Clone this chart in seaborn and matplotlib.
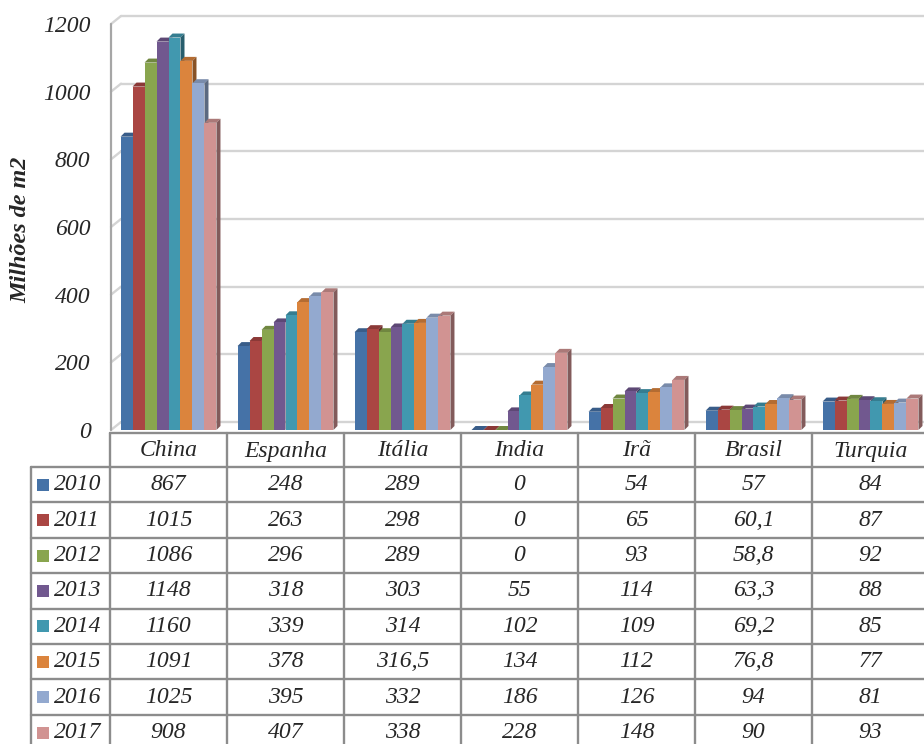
import matplotlib
matplotlib.use("Agg")
import matplotlib.pyplot as plt
import matplotlib.transforms as mtransforms
from matplotlib.patches import Polygon, Rectangle
from matplotlib.lines import Line2D
import numpy as np
import pandas as pd
import seaborn as sns

# ---- data (milhões de m2) ----
paises = ["China", "Espanha", "Itália", "India", "Irã", "Brasil", "Turquia"]
anos = ["2010", "2011", "2012", "2013", "2014", "2015", "2016", "2017"]
v2010 = [867, 248, 289, 0, 54, 57, 84]
v2011 = [1015, 263, 298, 0, 65, 60.1, 87]
v2012 = [1086, 296, 289, 0, 93, 58.8, 92]
v2013 = [1148, 318, 303, 55, 114, 63.3, 88]
v2014 = [1160, 339, 314, 102, 109, 69.2, 85]
v2015 = [1091, 378, 316.5, 134, 112, 76.8, 77]
v2016 = [1025, 395, 332, 186, 126, 94, 81]
v2017 = [908, 407, 338, 228, 148, 90, 93]
series = [v2010, v2011, v2012, v2013, v2014, v2015, v2016, v2017]
yticks = [0, 200, 400, 600, 800, 1000, 1200]
cores = ["#4572A7", "#AA4643", "#89A54E", "#71588F",
         "#4198AF", "#DB843D", "#93A9CF", "#D19392"]

df = pd.DataFrame(
    [(p, a, v) for a, vals in zip(anos, series) for p, v in zip(paises, vals)],
    columns=["pais", "ano", "valor"],
)

sns.set_theme(style="white")
plt.rcParams["font.family"] = ["Liberation Serif", "DejaVu Serif"]

W, H, DPI = 924, 744, 100
fig = plt.figure(figsize=(W / DPI, H / DPI), dpi=DPI)
fig.patch.set_facecolor("white")

# plot area in pixels
ax_l, ax_r = 110, 929
ax_base, ax_top = 430, 14
px_per_unit = (430 - 24) / 1200.0
ymax = (ax_base - ax_top) / px_per_unit
ax = fig.add_axes([ax_l / W, (H - ax_base) / H, (ax_r - ax_l) / W, (ax_base - ax_top) / H])
ax.patch.set_alpha(0)

sns.barplot(data=df, x="pais", y="valor", hue="ano", order=paises, hue_order=anos,
            palette=cores, width=0.82, saturation=1, errorbar=None,
            legend=False, linewidth=0, ax=ax)
ax.set_xlim(-0.5, len(paises) - 0.5)
ax.set_ylim(0, ymax)
for s in ax.spines.values():
    s.set_visible(False)
ax.set_xticks([])
ax.set_xlabel("")
ax.set_ylabel("")
ax.set_yticks(yticks)
ax.set_yticklabels([str(t) for t in yticks], fontsize=17, style="italic")
ax.tick_params(axis="y", length=0, pad=14)

ident = mtransforms.IdentityTransform()
grid_col = "#D4D4D4"
dx_w, dy_w = 10, 8   # depth of the back wall
d_bar = 4            # depth of each bar

# back wall grid lines with the short perspective segment at the left wall
x_wall = ax.transData.transform((-0.5, 0))[0] + 1
x_end = ax.transData.transform((len(paises) - 0.5, 0))[0] + dx_w
for t in yticks:
    yd = ax.transData.transform((0, t))[1]
    ax.add_line(Line2D([x_wall + dx_w, x_end], [yd + dy_w, yd + dy_w], transform=ident,
                       color=grid_col, lw=1.7, zorder=0.5, clip_on=False))
    ax.add_line(Line2D([x_wall, x_wall + dx_w], [yd, yd + dy_w], transform=ident,
                       color=grid_col, lw=1.7, zorder=0.5, clip_on=False))
y0d = ax.transData.transform((0, 0))[1]
y1d = ax.transData.transform((0, yticks[-1]))[1]
ax.add_line(Line2D([x_wall, x_wall], [y0d, y1d], transform=ident,
                   color="#A6A6A6", lw=1.6, zorder=0.6, clip_on=False))


def shade(c, f):
    r, g, b = matplotlib.colors.to_rgb(c)
    return (r * f, g * f, b * f)


# 3D top and side faces for every bar
for k, cont in enumerate(ax.containers):
    col = cores[k]
    for p in cont.patches:
        z = 2 + k * 0.1
        p.set_zorder(z)
        (x0, yb) = ax.transData.transform((p.get_x(), 0))
        (x1, yt) = ax.transData.transform((p.get_x() + p.get_width(), p.get_height()))
        top = Polygon([(x0, yt), (x1, yt), (x1 + d_bar, yt + d_bar), (x0 + d_bar, yt + d_bar)],
                      closed=True, transform=ident, facecolor=shade(col, 0.82),
                      edgecolor="none", zorder=z - 0.05, clip_on=False)
        side = Polygon([(x1, yb), (x1 + d_bar, yb + d_bar), (x1 + d_bar, yt + d_bar), (x1, yt)],
                       closed=True, transform=ident, facecolor=shade(col, 0.62),
                       edgecolor="none", zorder=z - 0.05, clip_on=False)
        ax.add_patch(top)
        ax.add_patch(side)

fig.text(21 / W, 1 - 230 / H, "Milhões de m2", rotation=90, ha="center", va="center",
         fontsize=17.4, fontweight="bold", style="italic")

# ---- data table below the plot ----
tab = fig.add_axes([0, 0, 1, 1])
tab.set_xlim(0, W)
tab.set_ylim(H, 0)
tab.axis("off")
tab.patch.set_alpha(0)

col_edges = [110 + 117 * i for i in range(len(paises) + 1)]
row_h = 35.4
head_top, head_bot = 433, 467
row_edges = [head_bot + row_h * i for i in range(len(anos) + 1)]
lc, lw = "#8C8C8C", 1.7
x_first = 31

tab.plot([col_edges[0], W + 10], [head_top, head_top], color=lc, lw=lw)
for y in row_edges:
    tab.plot([x_first, W + 10], [y, y], color=lc, lw=lw)
for x in col_edges:
    tab.plot([x, x], [head_top, H + 10], color=lc, lw=lw)
tab.plot([x_first, x_first], [head_bot, H + 10], color=lc, lw=lw)


def fmt(v):
    return str(int(v)) if float(v).is_integer() else str(v).replace(".", ",")


fs = 17
for i, p in enumerate(paises):
    cx = (col_edges[i] + col_edges[i + 1]) / 2
    tab.text(cx, (head_top + head_bot) / 2 + 1, p, ha="center", va="center",
             fontsize=fs, style="italic")
for r, (a, vals) in enumerate(zip(anos, series)):
    cy = (row_edges[r] + row_edges[r + 1]) / 2
    tab.add_patch(Rectangle((37, cy - 6), 12, 12, facecolor=cores[r], edgecolor="none"))
    tab.text(54, cy, a, ha="left", va="center", fontsize=fs, style="italic")
    for i, v in enumerate(vals):
        cx = (col_edges[i] + col_edges[i + 1]) / 2
        tab.text(cx, cy, fmt(v), ha="center", va="center", fontsize=fs, style="italic")

fig.savefig("out.png", dpi=DPI, facecolor="white")
